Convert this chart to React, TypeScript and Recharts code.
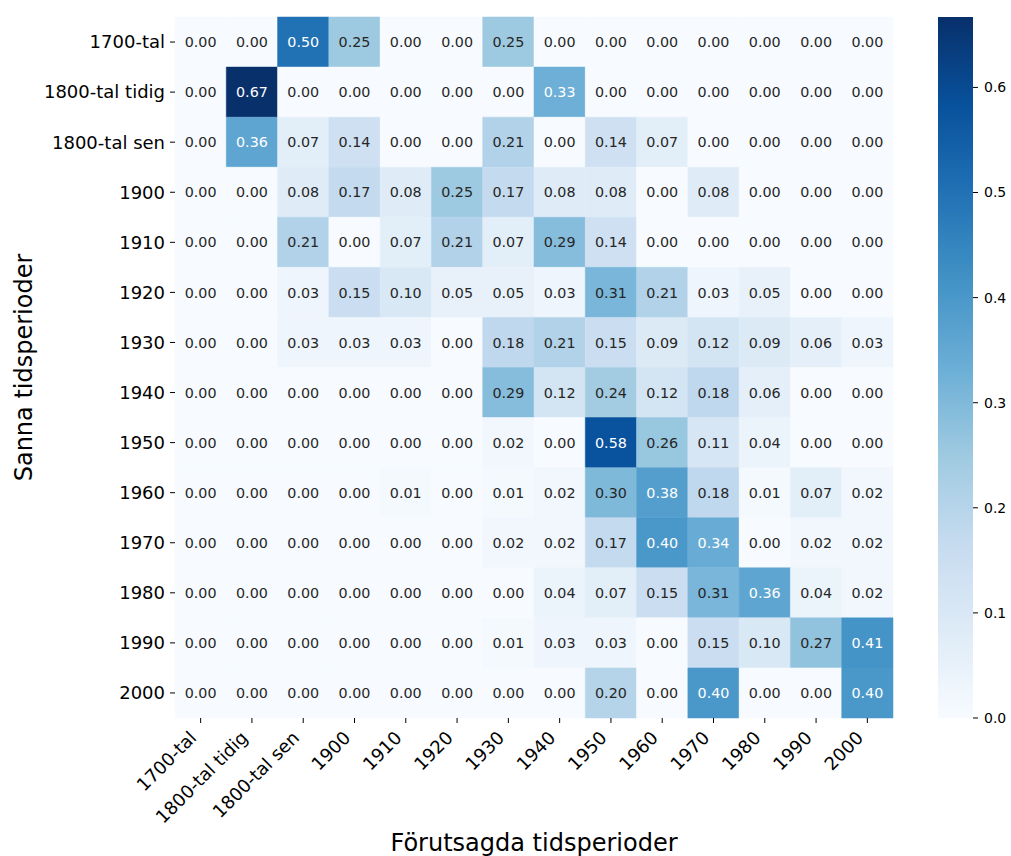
import React from "react";
import {
  ScatterChart,
  Scatter,
  XAxis,
  YAxis,
  ReferenceArea,
  BarChart,
  Bar,
  Label,
} from "recharts";

const FONT = '"DejaVu Sans", Verdana, sans-serif';

// period labels, used for both axes
const PERIODS = [
  "1700-tal",
  "1800-tal tidig",
  "1800-tal sen",
  "1900",
  "1910",
  "1920",
  "1930",
  "1940",
  "1950",
  "1960",
  "1970",
  "1980",
  "1990",
  "2000",
];

// one row per true period, columns = predicted period
const ROW_1700 = [0.0, 0.0, 0.5, 0.25, 0.0, 0.0, 0.25, 0.0, 0.0, 0.0, 0.0, 0.0, 0.0, 0.0];
const ROW_1800_TIDIG = [0.0, 0.67, 0.0, 0.0, 0.0, 0.0, 0.0, 0.33, 0.0, 0.0, 0.0, 0.0, 0.0, 0.0];
const ROW_1800_SEN = [0.0, 0.36, 0.07, 0.14, 0.0, 0.0, 0.21, 0.0, 0.14, 0.07, 0.0, 0.0, 0.0, 0.0];
const ROW_1900 = [0.0, 0.0, 0.08, 0.17, 0.08, 0.25, 0.17, 0.08, 0.08, 0.0, 0.08, 0.0, 0.0, 0.0];
const ROW_1910 = [0.0, 0.0, 0.21, 0.0, 0.07, 0.21, 0.07, 0.29, 0.14, 0.0, 0.0, 0.0, 0.0, 0.0];
const ROW_1920 = [0.0, 0.0, 0.03, 0.15, 0.1, 0.05, 0.05, 0.03, 0.31, 0.21, 0.03, 0.05, 0.0, 0.0];
const ROW_1930 = [0.0, 0.0, 0.03, 0.03, 0.03, 0.0, 0.18, 0.21, 0.15, 0.09, 0.12, 0.09, 0.06, 0.03];
const ROW_1940 = [0.0, 0.0, 0.0, 0.0, 0.0, 0.0, 0.29, 0.12, 0.24, 0.12, 0.18, 0.06, 0.0, 0.0];
const ROW_1950 = [0.0, 0.0, 0.0, 0.0, 0.0, 0.0, 0.02, 0.0, 0.58, 0.26, 0.11, 0.04, 0.0, 0.0];
const ROW_1960 = [0.0, 0.0, 0.0, 0.0, 0.01, 0.0, 0.01, 0.02, 0.3, 0.38, 0.18, 0.01, 0.07, 0.02];
const ROW_1970 = [0.0, 0.0, 0.0, 0.0, 0.0, 0.0, 0.02, 0.02, 0.17, 0.4, 0.34, 0.0, 0.02, 0.02];
const ROW_1980 = [0.0, 0.0, 0.0, 0.0, 0.0, 0.0, 0.0, 0.04, 0.07, 0.15, 0.31, 0.36, 0.04, 0.02];
const ROW_1990 = [0.0, 0.0, 0.0, 0.0, 0.0, 0.0, 0.01, 0.03, 0.03, 0.0, 0.15, 0.1, 0.27, 0.41];
const ROW_2000 = [0.0, 0.0, 0.0, 0.0, 0.0, 0.0, 0.0, 0.0, 0.2, 0.0, 0.4, 0.0, 0.0, 0.4];

const MATRIX = [
  ROW_1700,
  ROW_1800_TIDIG,
  ROW_1800_SEN,
  ROW_1900,
  ROW_1910,
  ROW_1920,
  ROW_1930,
  ROW_1940,
  ROW_1950,
  ROW_1960,
  ROW_1970,
  ROW_1980,
  ROW_1990,
  ROW_2000,
];

const VMAX = 0.667;
const CBAR_TICKS = [0, 0.1, 0.2, 0.3, 0.4, 0.5, 0.6];

// matplotlib "Blues"
const BLUES = [
  "#f7fbff",
  "#deebf7",
  "#c6dbef",
  "#9ecae1",
  "#6baed6",
  "#4292c6",
  "#2171b5",
  "#08519c",
  "#08306b",
];

const hexToRgb = (h: string) => [
  parseInt(h.slice(1, 3), 16),
  parseInt(h.slice(3, 5), 16),
  parseInt(h.slice(5, 7), 16),
];

function bluesRgb(v: number) {
  const t = Math.max(0, Math.min(1, v / VMAX)) * (BLUES.length - 1);
  const i = Math.min(Math.floor(t), BLUES.length - 2);
  const f = t - i;
  const a = hexToRgb(BLUES[i]);
  const b = hexToRgb(BLUES[i + 1]);
  return a.map((c, k) => Math.round(c + (b[k] - c) * f));
}

const rgbStr = (c: number[]) => `rgb(${c[0]},${c[1]},${c[2]})`;

// same rule seaborn uses to pick light or dark annotation text
function textColor(v: number) {
  const lin = bluesRgb(v).map((c) => {
    const s = c / 255;
    return s <= 0.03928 ? s / 12.92 : Math.pow((s + 0.055) / 1.055, 2.4);
  });
  const lum = 0.2126 * lin[0] + 0.7152 * lin[1] + 0.0722 * lin[2];
  return lum > 0.408 ? "#262626" : "#ffffff";
}

const cells = MATRIX.flatMap((row, r) => row.map((v, c) => ({ x: c, y: r, v })));
const IDX = PERIODS.map((_, i) => i);

const TICK_FONT = 18;

const XTick = (props: any) => {
  const { x, y, payload } = props;
  const tx = x - 3;
  const ty = y + 16;
  return (
    <text
      x={tx}
      y={ty}
      textAnchor="end"
      transform={`rotate(-45, ${tx}, ${ty})`}
      fontSize={TICK_FONT}
      fontFamily={FONT}
      fill="#000"
    >
      {PERIODS[payload.value]}
    </text>
  );
};

const CellText = (props: any) => {
  const { cx, cy, payload } = props;
  return (
    <text
      x={cx}
      y={cy}
      dy="0.36em"
      textAnchor="middle"
      fontSize={14.3}
      fontFamily={FONT}
      fill={textColor(payload.v)}
    >
      {payload.v.toFixed(2)}
    </text>
  );
};

const XTitle = (props: any) => {
  const vb = props.viewBox;
  return (
    <text
      x={vb.x + vb.width / 2}
      y={vb.y + 133}
      textAnchor="middle"
      fontSize={24}
      fontFamily={FONT}
      fill="#000"
    >
      Förutsagda tidsperioder
    </text>
  );
};

const YTitle = (props: any) => {
  const vb = props.viewBox;
  const x = vb.x + 32;
  const y = vb.y + vb.height / 2;
  return (
    <text
      x={x}
      y={y}
      textAnchor="middle"
      transform={`rotate(-90, ${x}, ${y})`}
      fontSize={24}
      fontFamily={FONT}
      fill="#000"
    >
      Sanna tidsperioder
    </text>
  );
};

function Heatmap() {
  return (
    <ScatterChart
      width={900}
      height={856}
      margin={{ top: 17, right: 7, bottom: 0, left: 0 }}
    >
      <XAxis
        type="number"
        dataKey="x"
        domain={[-0.5, 13.5]}
        ticks={IDX}
        interval={0}
        allowDataOverflow
        axisLine={false}
        tickLine={{ stroke: "#000" }}
        tickSize={5}
        tickMargin={0}
        height={138}
        tick={<XTick />}
      >
        <Label content={XTitle} />
      </XAxis>
      <YAxis
        type="number"
        dataKey="y"
        reversed
        domain={[-0.5, 13.5]}
        ticks={IDX}
        interval={0}
        allowDataOverflow
        axisLine={false}
        tickLine={{ stroke: "#000" }}
        tickSize={5}
        tickMargin={5}
        width={175}
        tickFormatter={(i: number) => PERIODS[i]}
        tick={{ fontSize: TICK_FONT, fontFamily: FONT, fill: "#000" }}
      >
        <Label content={YTitle} />
      </YAxis>
      {cells.map((c) => {
        const col = rgbStr(bluesRgb(c.v));
        return (
          <ReferenceArea
            key={`${c.x}-${c.y}`}
            x1={c.x - 0.5}
            x2={c.x + 0.5}
            y1={c.y - 0.5}
            y2={c.y + 0.5}
            fill={col}
            fillOpacity={1}
            stroke={col}
            strokeWidth={0.5}
            ifOverflow="visible"
          />
        );
      })}
      <Scatter data={cells} shape={CellText} isAnimationActive={false} />
    </ScatterChart>
  );
}

function ColorBar() {
  return (
    <BarChart
      width={111}
      height={856}
      data={[{ name: "scale", v: VMAX }]}
      margin={{ top: 17, right: 0, bottom: 138, left: 38 }}
      barCategoryGap={0}
    >
      <defs>
        <linearGradient id="bluesScale" x1="0" y1="1" x2="0" y2="0">
          {BLUES.map((c, i) => (
            <stop key={c} offset={i / (BLUES.length - 1)} stopColor={c} />
          ))}
        </linearGradient>
      </defs>
      <XAxis dataKey="name" hide />
      <YAxis
        type="number"
        orientation="right"
        domain={[0, VMAX]}
        ticks={CBAR_TICKS}
        interval={0}
        allowDataOverflow
        axisLine={false}
        tickLine={{ stroke: "#000" }}
        tickSize={5}
        tickMargin={6}
        width={38}
        tickFormatter={(v: number) => v.toFixed(1)}
        tick={{ fontSize: 14, fontFamily: FONT, fill: "#000", textAnchor: "start" }}
      />
      <Bar dataKey="v" fill="url(#bluesScale)" isAnimationActive={false} />
    </BarChart>
  );
}

export default function App() {
  return (
    <div
      style={{
        position: "absolute",
        left: 0,
        top: 0,
        width: 1011,
        height: 856,
        background: "#fff",
      }}
    >
      <div style={{ position: "absolute", left: 0, top: 0 }}>
        <Heatmap />
      </div>
      <div style={{ position: "absolute", left: 900, top: 0 }}>
        <ColorBar />
      </div>
    </div>
  );
}
